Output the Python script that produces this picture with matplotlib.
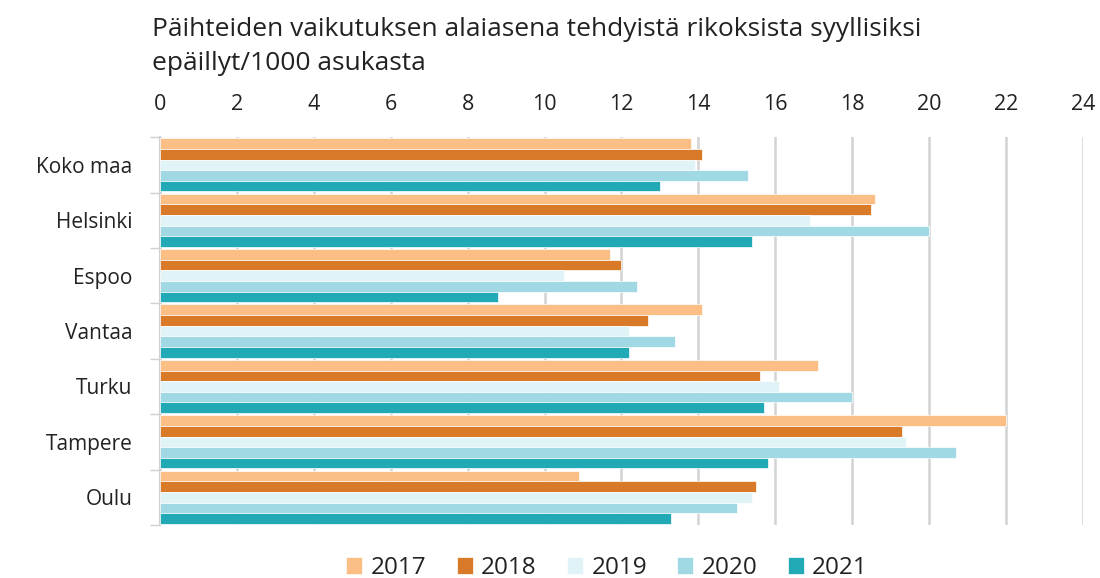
import numpy as np
import matplotlib
matplotlib.use("Agg")
import matplotlib.pyplot as plt

plt.rcParams.update({"font.family": ["Open Sans", "DejaVu Sans"]})

cities = ["Koko maa", "Helsinki", "Espoo", "Vantaa", "Turku", "Tampere", "Oulu"]
years = ["2017", "2018", "2019", "2020", "2021"]
v2017 = [13.8, 18.6, 11.7, 14.1, 17.1, 22.0, 10.9]
v2018 = [14.1, 18.5, 12.0, 12.7, 15.6, 19.3, 15.5]
v2019 = [13.9, 16.9, 10.5, 12.2, 16.1, 19.4, 15.4]
v2020 = [15.3, 20.0, 12.4, 13.4, 18.0, 20.7, 15.0]
v2021 = [13.0, 15.4, 8.8, 12.2, 15.7, 15.8, 13.3]
series = [v2017, v2018, v2019, v2020, v2021]
colors = ["#FBBE85", "#D97A29", "#E0F3F6", "#A0D9E3", "#21AAB6"]

fig = plt.figure(figsize=(11, 5.78), dpi=100)
ax = fig.add_axes([0.1455, 0.0917, 0.839, 0.671])

y = np.arange(len(cities))
h = 0.192
for k, (vals, c, yr) in enumerate(zip(series, colors, years)):
    ax.barh(y - 0.48 + h * (k + 0.5), vals, height=h, color=c, label=yr,
            edgecolor="white", linewidth=0.5, zorder=3)

ax.set_xlim(0, 24)
ax.set_ylim(len(cities) - 0.5, -0.5)
ax.set_xticks(np.arange(0, 25, 2))
ax.xaxis.tick_top()
ax.tick_params(axis="x", length=0, pad=16, labelsize=15.5, colors="#222222")
ax.set_yticks(y)
ax.set_yticklabels(cities)
ax.tick_params(axis="y", length=0, pad=20, labelsize=15, colors="#222222")
ax.set_yticks(np.arange(-0.5, len(cities)), minor=True)
ax.tick_params(axis="y", which="minor", length=7, width=1, color="#d0d0d0")
ax.grid(axis="x", color="#d3d3d3", linewidth=1.8, zorder=0)
for s in ["top", "right", "bottom"]:
    ax.spines[s].set_visible(False)
ax.spines["left"].set_color("#d0d0d0")
ax.spines["left"].set_linewidth(1.5)

fig.text(152 / 1100, 1 - 29 / 578, "Päihteiden vaikutuksen alaiasena tehdyistä rikoksista syyllisiksi",
         fontsize=19, va="center", ha="left", color="#222222")
fig.text(152 / 1100, 1 - 63 / 578, "epäillyt/1000 asukasta",
         fontsize=19, va="center", ha="left", color="#222222")

fig.legend(loc="center", bbox_to_anchor=(0.552, 1 - 568 / 578), ncol=5, frameon=False,
           fontsize=17.5, handlelength=0.65, handleheight=0.65, handletextpad=0.35,
           columnspacing=1.25, labelcolor="#222222")

fig.savefig("out.png", dpi=100)
